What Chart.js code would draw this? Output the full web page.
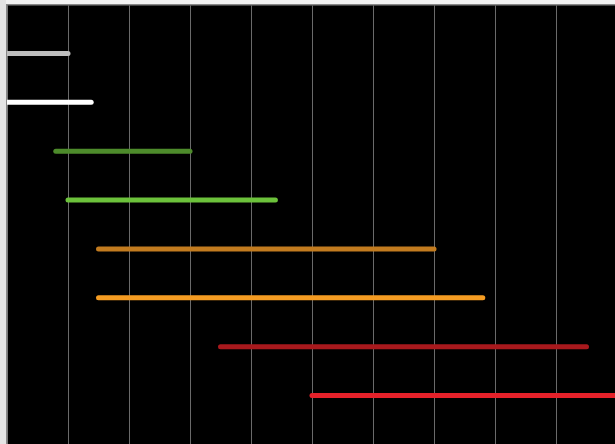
<!DOCTYPE html>
<html lang="en">
<head>
    <meta charset="UTF-8">
    <title>Timeline lines</title>
    <script src="https://cdn.jsdelivr.net/npm/chart.js"></script>
    <style>
        body { margin: 0; background: #f2f2f2; overflow: hidden; }
        #strip { position: absolute; left: 0; top: 0; width: 6px; height: 444px; background: #e4e4e4; }
        #wrap { position: absolute; left: 0; top: 0; width: 623px; height: 452px; }
    </style>
</head>
<body>
    <div id="strip"></div>
    <div id="wrap"><canvas id="myChart"></canvas></div>

    <script>
        // one row per line, top to bottom
        const rows = [1, 2, 3, 4, 5, 6, 7, 8];
        const starts = [0, 0, 0.8, 1, 1.5, 1.5, 3.5, 5];
        const ends = [1, 1.38, 3, 4.4, 7, 7.8, 9.5, 10.6];
        const xTicks = [0, 1, 2, 3, 4, 5, 6, 7, 8, 9, 10];

        const colors = ['#bebebe', '#ffffff', '#4d8b2b', '#6cc23b', '#c27b1f', '#f59c22', '#a8191d', '#e5212a'];

        // fondo negro del area del grafico
        const blackArea = {
            id: 'blackArea',
            beforeDraw(chart) {
                const a = chart.chartArea;
                chart.ctx.save();
                chart.ctx.fillStyle = '#000';
                chart.ctx.fillRect(a.left, a.top, a.right - a.left, a.bottom - a.top);
                chart.ctx.restore();
            }
        };

        const datasets = rows.map((r, i) => ({
            data: [{ x: starts[i], y: r }, { x: ends[i], y: r }],
            borderColor: colors[i],
            borderWidth: 5,
            borderCapStyle: 'round',
            pointRadius: 0,
            clip: 0
        }));

        const ctx = document.getElementById('myChart').getContext('2d');
        new Chart(ctx, {
            type: 'line',
            data: { datasets: datasets },
            plugins: [blackArea],
            options: {
                responsive: true,
                maintainAspectRatio: false,
                animation: false,
                layout: { padding: { left: 7, top: 4.5, right: 6, bottom: 7.5 } },
                plugins: { legend: { display: false }, tooltip: { enabled: false } },
                scales: {
                    x: {
                        type: 'linear',
                        position: 'top',
                        min: 0,
                        max: 10,
                        afterBuildTicks: (s) => { s.ticks = xTicks.map(v => ({ value: v })); },
                        ticks: { display: false },
                        grid: { color: '#6a6a6a', drawTicks: false },
                        border: { color: '#888888', width: 1.5 }
                    },
                    y: {
                        type: 'linear',
                        reverse: true,
                        min: 0,
                        max: 9,
                        ticks: { display: false },
                        grid: { display: false, drawTicks: false },
                        border: { color: '#888888', width: 1.5 }
                    }
                }
            }
        });
    </script>
</body>
</html>
